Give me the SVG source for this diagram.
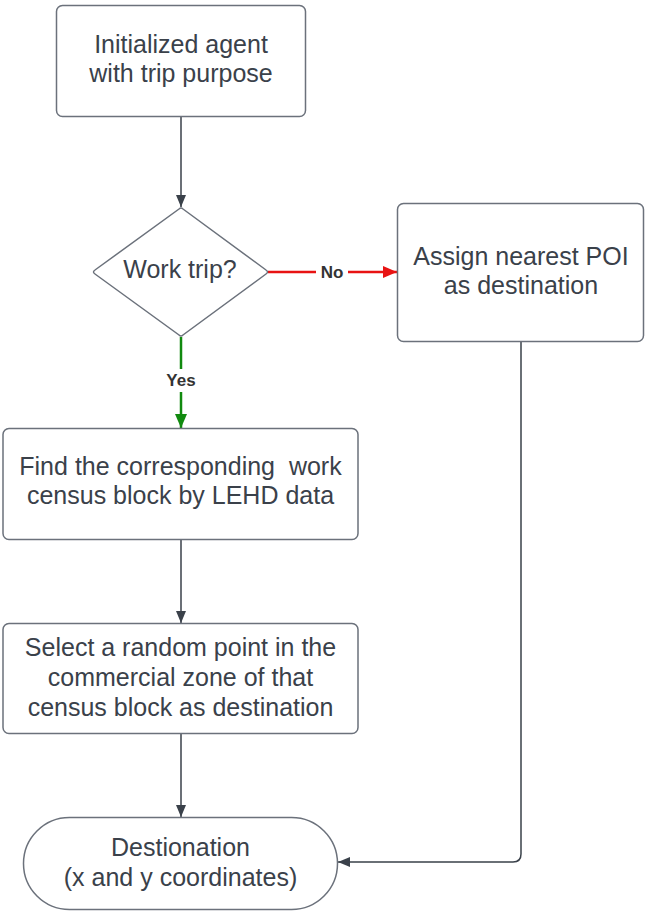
<svg xmlns="http://www.w3.org/2000/svg" width="645" height="911" viewBox="0 0 645 911">
<defs>
<style>
.box{fill:#ffffff;stroke:#6b717b;stroke-width:1.5}
.t{font-family:"Liberation Sans",Arial,sans-serif;font-size:25px;fill:#3a414a;text-anchor:middle;white-space:pre}
.lbl{font-family:"Liberation Sans",Arial,sans-serif;font-size:17px;font-weight:bold;fill:#333333;text-anchor:middle}
.ln{fill:none;stroke:#3a414a;stroke-width:1.5}
</style>
<marker id="ad" viewBox="0 0 12 10" refX="12" refY="5" markerWidth="12" markerHeight="10" markerUnits="userSpaceOnUse" orient="auto"><path d="M0,0 L12,5 L0,10 Z" fill="#3a414a"/></marker>
<marker id="ar" viewBox="0 0 14 12" refX="14" refY="6" markerWidth="14" markerHeight="12" markerUnits="userSpaceOnUse" orient="auto"><path d="M0,0 L14,6 L0,12 Z" fill="#e81313"/></marker>
<marker id="ag" viewBox="0 0 14 12" refX="14" refY="6" markerWidth="14" markerHeight="12" markerUnits="userSpaceOnUse" orient="auto"><path d="M0,0 L14,6 L0,12 Z" fill="#118a0f"/></marker>
</defs>
<rect width="645" height="911" fill="#ffffff"/>
<g id="connectors">
<path class="ln" d="M181,117 V207" marker-end="url(#ad)"/>
<path d="M268,272 H316" fill="none" stroke="#e81313" stroke-width="2.5"/>
<path d="M348,272 H397" fill="none" stroke="#e81313" stroke-width="2.5" marker-end="url(#ar)"/>
<text class="lbl" x="332" y="278">No</text>
<path d="M181,337 V369" fill="none" stroke="#118a0f" stroke-width="2.5"/>
<path d="M181,392 V428" fill="none" stroke="#118a0f" stroke-width="2.5" marker-end="url(#ag)"/>
<text class="lbl" x="181" y="386">Yes</text>
<path class="ln" d="M181,540 V623" marker-end="url(#ad)"/>
<path class="ln" d="M181,734 V817" marker-end="url(#ad)"/>
<path class="ln" d="M521,342 V854 Q521,862 513,862 H338" marker-end="url(#ad)"/>
</g>
<g id="start">
<rect class="box" x="56.5" y="5.5" width="249" height="111" rx="6"/>
<text class="t" x="181" y="53">Initialized agent</text>
<text class="t" x="181" y="82">with trip purpose</text>
</g>
<g id="decision">
<path class="box" d="M183,209 L266,270 Q269,272 266,274 L183,335 Q181,337 179,335 L95,274 Q92,272 95,270 L179,209 Q181,207 183,209 Z"/>
<text class="t" x="180" y="278">Work trip?</text>
</g>
<g id="assign">
<rect class="box" x="397.5" y="203.5" width="246" height="138" rx="6"/>
<text class="t" x="521" y="265">Assign nearest POI</text>
<text class="t" x="521" y="294">as destination</text>
</g>
<g id="find">
<rect class="box" x="3" y="428.5" width="355" height="111" rx="6"/>
<text class="t" x="180.5" y="475" xml:space="preserve">Find the corresponding  work</text>
<text class="t" x="180.5" y="504">census block by LEHD data</text>
</g>
<g id="select">
<rect class="box" x="3" y="623.5" width="355" height="110" rx="6"/>
<text class="t" x="180.5" y="656">Select a random point in the</text>
<text class="t" x="180.5" y="686">commercial zone of that</text>
<text class="t" x="180.5" y="716">census block as destination</text>
</g>
<g id="destination">
<rect class="box" x="23.5" y="817.5" width="314" height="92" rx="46"/>
<text class="t" x="180.5" y="856">Destionation</text>
<text class="t" x="180.5" y="886">(x and y coordinates)</text>
</g>
</svg>
